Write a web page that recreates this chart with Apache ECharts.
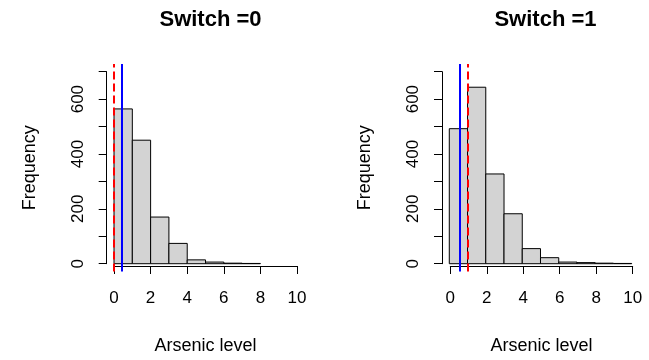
<!DOCTYPE html>
<html>
<head>
<meta charset="utf-8">
<script src="https://cdn.jsdelivr.net/npm/echarts@6/dist/echarts.min.js"></script>
<style>
  html, body { margin: 0; padding: 0; background: #fff; }
  #chart { width: 649px; height: 360px; }
</style>
</head>
<body>
<div id="chart"></div>
<script>
// bin edges of the histograms (arsenic level)
const binEdges = [0, 1, 2, 3, 4, 5, 6, 7, 8, 9, 10];
// frequencies per bin
const countsSwitch0 = [564, 450, 170, 74, 14, 6, 2, 1];
const countsSwitch1 = [492, 643, 327, 182, 55, 22, 6, 4, 2, 1];
// vertical reference lines (blue solid, red dashed)
const blueLines = [0.42, 0.55];
const redLines = [0.0, 0.99];
const panelTitles = ['Switch =0', 'Switch =1'];

const FONT = 'Liberation Sans, Arial, Helvetica, sans-serif';

var dom = document.getElementById('chart');
var myChart = echarts.init(dom, null, { renderer: 'canvas' });

// panel geometry (pixels)
const panels = [
    { left: 106.7, x0: 114, x10: 297 },
    { left: 442, x0: 450.3, x10: 632.7 }
];
const plotTop = 63.9, plotBottom = 271.4;
const y0px = 263.7, y700px = 71.7;

function histData(counts) {
    return counts.map((c, i) => [binEdges[i], binEdges[i + 1], c]);
}

const grid = [], xAxis = [], yAxis = [], series = [], title = [];

panels.forEach((p, k) => {
    const width = (p.x10 - p.x0) * 1.08;
    // grid for plot region (data)
    grid.push({ left: p.left, top: plotTop, width: width, height: plotBottom - plotTop });
    xAxis.push({ gridIndex: 3 * k, type: 'value', min: -0.4, max: 10.4, show: false });
    yAxis.push({ gridIndex: 3 * k, type: 'value', min: -28, max: 728, show: false });

    // grid carrying the x axis (0..10)
    grid.push({ left: p.x0, top: plotTop, width: p.x10 - p.x0, height: plotBottom - plotTop });
    xAxis.push({
        gridIndex: 3 * k + 1, type: 'value', min: 0, max: 10, interval: 2,
        splitLine: { show: false },
        axisLine: { lineStyle: { color: '#000', width: 1 } },
        axisTick: { length: 8, lineStyle: { color: '#000', width: 1 } },
        axisLabel: { color: '#000', fontFamily: FONT, fontSize: 17, margin: 24 },
        name: 'Arsenic level', nameLocation: 'middle', nameGap: 71,
        nameTextStyle: { color: '#000', fontFamily: FONT, fontSize: 18 }
    });
    yAxis.push({ gridIndex: 3 * k + 1, type: 'value', show: false });

    // grid carrying the y axis (0..700)
    grid.push({ left: p.left, top: y700px, width: width, height: y0px - y700px });
    xAxis.push({ gridIndex: 3 * k + 2, type: 'value', show: false });
    yAxis.push({
        gridIndex: 3 * k + 2, type: 'value', min: 0, max: 700, interval: 100,
        splitLine: { show: false },
        axisLine: { show: true, lineStyle: { color: '#000', width: 1 } },
        axisTick: { show: true, length: 8, lineStyle: { color: '#000', width: 1 } },
        axisLabel: {
            color: '#000', fontFamily: FONT, fontSize: 17, rotate: 90, margin: 20,
            formatter: v => (v % 200 === 0 ? String(v) : '')
        },
        name: 'Frequency', nameLocation: 'middle', nameGap: 68,
        nameTextStyle: { color: '#000', fontFamily: FONT, fontSize: 18 }
    });

    title.push({
        text: panelTitles[k],
        left: p.left + width / 2, top: 4, textAlign: 'center',
        textStyle: { color: '#000', fontFamily: FONT, fontSize: 22, fontWeight: 'bold' }
    });

    series.push({
        type: 'custom',
        xAxisIndex: 3 * k, yAxisIndex: 3 * k,
        data: histData(k === 0 ? countsSwitch0 : countsSwitch1),
        renderItem: function (params, api) {
            const a = api.coord([api.value(0), api.value(2)]);
            const b = api.coord([api.value(1), 0]);
            return {
                type: 'rect',
                shape: { x: a[0], y: a[1], width: b[0] - a[0], height: b[1] - a[1] },
                style: { fill: '#d3d3d3', stroke: '#000', lineWidth: 1 }
            };
        },
        markLine: {
            silent: true, symbol: 'none', label: { show: false }, animation: false,
            data: [
                { xAxis: redLines[k], lineStyle: { color: '#ff0000', width: 2, type: [8, 4] } },
                { xAxis: blueLines[k], lineStyle: { color: '#0000ff', width: 2, type: 'solid' } }
            ]
        }
    });
});

const option = {
    backgroundColor: '#fff',
    animation: false,
    title: title,
    grid: grid,
    xAxis: xAxis,
    yAxis: yAxis,
    series: series
};

myChart.setOption(option);
window.addEventListener('resize', myChart.resize);
</script>
</body>
</html>
